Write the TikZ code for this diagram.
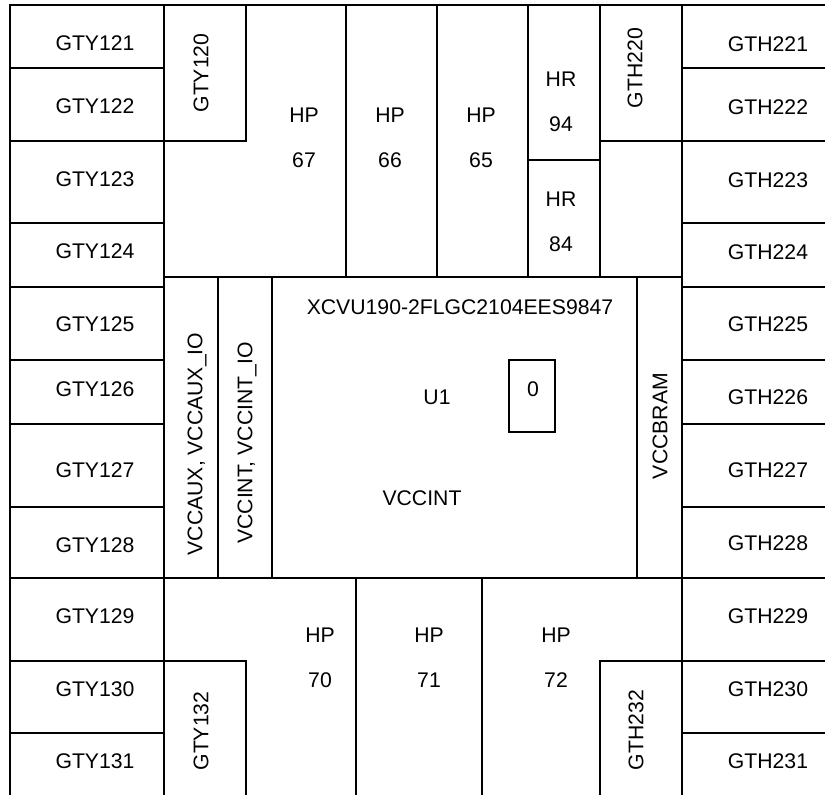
\documentclass[tikz,border=0pt]{standalone}
\usepackage{fontspec}
\setmainfont{Liberation Sans}
\begin{document}
\begin{tikzpicture}[x=1bp,y=-1bp,
  ln/.style={line width=1.7bp, line cap=rect, draw=black},
  lbl/.style={font=\fontsize{21.2bp}{25bp}\selectfont, inner sep=0pt},
  two/.style={font=\fontsize{21.2bp}{45bp}\selectfont, align=center, inner sep=0pt},
  vlbl/.style={lbl, rotate=90}]
\useasboundingbox (0,0) rectangle (825,795);
% outer frame (open at bottom and right)
\draw[ln] (10,795) -- (10,5) -- (825,5);
% left column
\draw[ln] (164,5) -- (164,795);
\foreach \yy in {68,141,223,287,360,424,507,578,661,733}
  \draw[ln] (10,\yy) -- (164,\yy);
% right column
\draw[ln] (682,5) -- (682,795);
\foreach \yy in {68,141,223,287,360,424,507,578,661,733}
  \draw[ln] (682,\yy) -- (825,\yy);
% top region
\draw[ln] (164,141) -- (246,141) -- (246,5);
\draw[ln] (346,5) -- (346,277);
\draw[ln] (437,5) -- (437,277);
\draw[ln] (528,5) -- (528,277);
\draw[ln] (600,5) -- (600,277);
\draw[ln] (528,160) -- (600,160);
\draw[ln] (600,141) -- (682,141);
% core
\draw[ln] (164,277) -- (682,277);
\draw[ln] (164,578) -- (682,578);
\draw[ln] (218,277) -- (218,578);
\draw[ln] (272,277) -- (272,578);
\draw[ln] (637,277) -- (637,578);
\draw[ln] (509,360) rectangle (555,432);
% bottom region
\draw[ln] (356,578) -- (356,795);
\draw[ln] (482,578) -- (482,795);
\draw[ln] (164,661) -- (246,661) -- (246,795);
\draw[ln] (682,661) -- (600,661) -- (600,795);

% left labels
\node[lbl] (gty121) at (95,43) {GTY121};
\node[lbl] (gty122) at (95,106) {GTY122};
\node[lbl] (gty123) at (95,179) {GTY123};
\node[lbl] (gty124) at (95,251) {GTY124};
\node[lbl] (gty125) at (95,324) {GTY125};
\node[lbl] (gty126) at (95,389) {GTY126};
\node[lbl] (gty127) at (95,470) {GTY127};
\node[lbl] (gty128) at (95,545) {GTY128};
\node[lbl] (gty129) at (95,616) {GTY129};
\node[lbl] (gty130) at (95,689) {GTY130};
\node[lbl] (gty131) at (95,761) {GTY131};
% right labels
\node[lbl] (gth221) at (768,44) {GTH221};
\node[lbl] (gth222) at (768,107) {GTH222};
\node[lbl] (gth223) at (768,180) {GTH223};
\node[lbl] (gth224) at (768,252) {GTH224};
\node[lbl] (gth225) at (768,324) {GTH225};
\node[lbl] (gth226) at (768,397) {GTH226};
\node[lbl] (gth227) at (768,470) {GTH227};
\node[lbl] (gth228) at (768,543) {GTH228};
\node[lbl] (gth229) at (768,616) {GTH229};
\node[lbl] (gth230) at (768,689) {GTH230};
\node[lbl] (gth231) at (768,761) {GTH231};
% rotated labels
\node[vlbl] (gty120) at (201,73) {GTY120};
\node[vlbl] (gth220) at (635,68) {GTH220};
\node[vlbl] (gty132) at (201,731) {GTY132};
\node[vlbl] (gth232) at (636,730) {GTH232};
\node[vlbl] (vccaux) at (197,444) {VCCAUX, VCCAUX\_IO};
\node[vlbl] (vccint) at (247,443) {VCCINT, VCCINT\_IO};
\node[vlbl] (vccbram) at (660,426) {VCCBRAM};
% banks
\node[two] (hp67) at (304,137.5) {HP\\67};
\node[two] (hp66) at (390,137.5) {HP\\66};
\node[two] (hp65) at (481,137.5) {HP\\65};
\node[two] (hr94) at (561,102) {HR\\94};
\node[two] (hr84) at (561,221.5) {HR\\84};
\node[two] (hp70) at (320,657.5) {HP\\70};
\node[two] (hp71) at (429,657.5) {HP\\71};
\node[two] (hp72) at (556,657.5) {HP\\72};
% core labels
\node[lbl] (part) at (460,307) {XCVU190-2FLGC2104EES9847};
\node[lbl] (u1) at (437,397) {U1};
\node[lbl] (zero) at (533,389) {0};
\node[lbl] (vccintc) at (422,498) {VCCINT};
\end{tikzpicture}
\end{document}
